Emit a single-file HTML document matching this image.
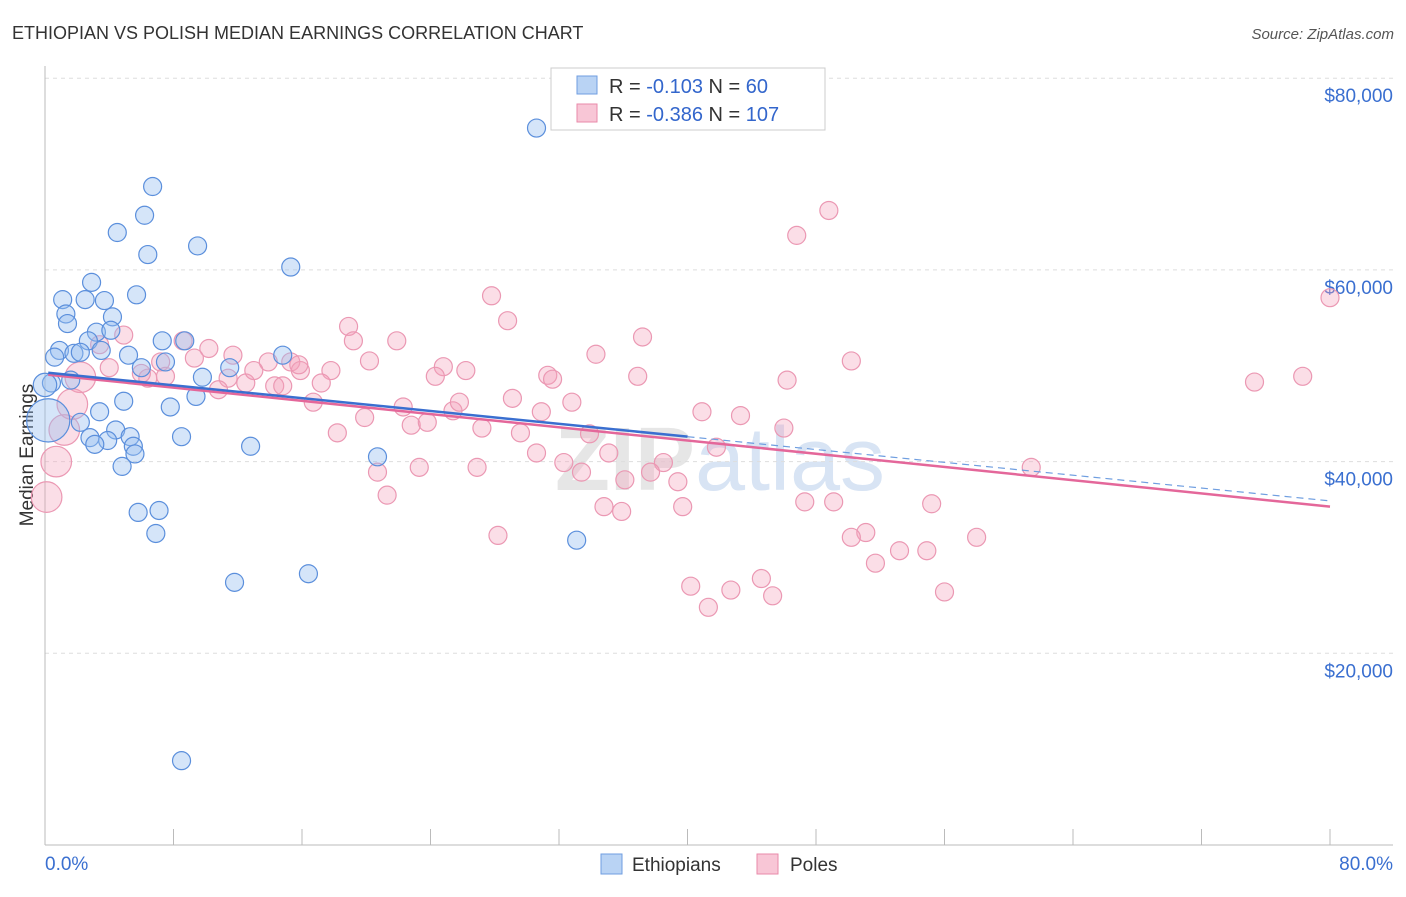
<!DOCTYPE html>
<html><head><meta charset="utf-8"><style>
body{margin:0;background:#fff;font-family:"Liberation Sans",sans-serif}
svg text{font-family:"Liberation Sans",sans-serif}
</style></head><body>
<svg id="c" width="1406" height="892">
<text x="12" y="39" font-size="18" fill="#333">ETHIOPIAN VS POLISH MEDIAN EARNINGS CORRELATION CHART</text>
<text x="1394" y="39" font-size="15" fill="#555" text-anchor="end" font-style="italic">Source: ZipAtlas.com</text>
<text x="33" y="455" font-size="19" fill="#333" text-anchor="middle" transform="rotate(-90 33 455)">Median Earnings</text>
<text x="720" y="490" font-size="90" fill="#e6e6e6" text-anchor="middle" font-weight="bold">ZIP<tspan fill="#d8e4f4" font-weight="normal">atlas</tspan></text>
<g id="grid"></g><g id="pts"></g><g id="trend"></g>
<g>
<rect x="551" y="68" width="274" height="62" fill="#fff" stroke="#ccc"/>
<rect x="577" y="76" width="20" height="18" fill="#b9d3f4" stroke="#6f9ee0"/>
<rect x="577" y="104" width="20" height="18" fill="#f8c6d6" stroke="#e98aa9"/>
<text x="609" y="93" font-size="20" fill="#333">R = <tspan fill="#3366cc">-0.103</tspan>   N = <tspan fill="#3366cc">  60</tspan></text>
<text x="609" y="121" font-size="20" fill="#333">R = <tspan fill="#3366cc">-0.386</tspan>   N = <tspan fill="#3366cc">107</tspan></text>
</g>
<g>
<rect x="601" y="854" width="21" height="20" fill="#b9d3f4" stroke="#6f9ee0"/>
<text x="632" y="871" font-size="19" fill="#333">Ethiopians</text>
<rect x="757" y="854" width="21" height="20" fill="#f8c6d6" stroke="#e98aa9"/>
<text x="790" y="871" font-size="19" fill="#333">Poles</text>
</g>
<text x="45" y="870" font-size="19" fill="#3a6fd0">0.0%</text>
<text x="1393" y="870" font-size="19" fill="#3a6fd0" text-anchor="end">80.0%</text>
</svg>
<script>
const yTicks=[20000,40000,60000,80000];
const yTickLabels=["$20,000","$40,000","$60,000","$80,000"];
const xTicks=[0,8,16,24,32,40,48,56,64,72,80];
const ethX=[30.6,6.7,6.2,4.5,6.4,9.5,15.3,2.9,1.1,2.5,3.7,5.7,1.3,1.4,4.2,3.2,4.1,7.3,8.7,2.7,0.9,1.8,0.6,3.5,2.2,5.2,7.5,6.0,14.8,11.5,9.8,9.4,0.4,1.6,4.9,7.8,3.4,2.2,4.4,2.8,5.3,3.9,3.1,8.5,12.8,5.5,5.6,4.8,20.7,5.8,7.1,6.9,11.8,16.4,33.1,8.5,0.2,0.0];
const ethY=[74.8,68.7,65.7,63.9,61.6,62.5,60.3,58.7,56.9,56.9,56.8,57.4,55.4,54.4,55.1,53.5,53.7,52.6,52.6,52.6,51.6,51.3,50.9,51.6,51.4,51.1,50.4,49.8,51.1,49.8,48.8,46.8,48.2,48.5,46.3,45.7,45.2,44.1,43.3,42.5,42.6,42.2,41.8,42.6,41.6,41.6,40.8,39.5,40.5,34.7,34.9,32.5,27.4,28.3,31.8,8.8,44.3,48.0];
const ethW=[1,1,1,1,1,1,1,1,1,1,1,1,1,1,1,1,1,1,1,1,1,1,1,1,1,1,1,1,1,1,1,1,1,1,1,1,1,1,1,1,1,1,1,1,1,1,1,1,1,1,1,1,1,1,1,1,2.4,1.3];
const polX=[48.8,46.8,80.0,27.8,28.8,18.9,19.2,37.2,21.9,34.3,50.2,20.2,78.3,75.3,4.9,3.4,8.6,10.2,11.7,9.3,13.9,15.3,7.2,4.0,6.4,7.5,6.0,11.4,12.5,14.3,14.8,15.9,17.8,17.2,15.8,13.0,24.8,26.2,24.3,31.3,31.6,36.9,46.2,10.8,16.7,22.3,25.4,25.8,29.1,30.9,32.8,40.9,43.3,19.9,22.8,23.8,27.2,29.6,33.9,18.2,35.1,30.6,32.3,38.5,41.8,46.0,20.7,23.3,26.9,33.4,36.1,37.7,39.4,61.4,21.3,28.2,34.8,35.9,39.7,47.3,49.1,55.2,51.1,50.2,53.2,54.9,58.0,51.7,56.0,40.2,41.3,42.7,44.6,45.3,2.2,1.7,1.2,0.7,0.1];
const polY=[66.2,63.6,57.1,57.3,54.7,54.1,52.6,53.0,52.6,51.2,50.5,50.5,48.9,48.3,53.2,52.2,52.6,51.8,51.1,50.8,50.4,50.4,50.4,49.8,48.7,48.9,49.2,48.7,48.2,47.9,47.9,49.5,49.5,48.2,50.1,49.5,49.9,49.5,48.9,49.0,48.6,48.9,48.5,47.5,46.2,45.7,45.3,46.2,46.6,45.2,46.2,45.2,44.8,44.6,43.8,44.1,43.5,43.0,42.9,43.0,40.9,40.9,39.9,39.9,41.5,43.5,38.9,39.4,39.4,38.9,38.1,38.9,37.9,39.4,36.5,32.3,35.3,34.8,35.3,35.8,35.8,35.6,32.6,32.1,30.7,30.7,32.1,29.4,26.4,27.0,24.8,26.6,27.8,26.0,48.8,46.0,43.3,40.0,36.3];
const polW=polX.map((v,i)=>i>=94?1.7:1);
const ethTrend=[49.3,-0.1675]; // intercept (k$), slope per %
const polTrend=[49.1,-0.1725];
const X=p=>45+p/80*1285, Y=v=>845-v/20000*191.7, Yk=k=>Y(k*1000);
const NS="http://www.w3.org/2000/svg";
function mk(t,a,parent){const e=document.createElementNS(NS,t);for(const k in a)e.setAttribute(k,a[k]);parent.appendChild(e);return e;}
const grid=document.getElementById('grid');
yTicks.forEach((v,i)=>{
 const l=mk('line',{x1:45,x2:1393,y1:Y(v),y2:Y(v),stroke:'#ddd','stroke-dasharray':'4 4'},grid);
 
 
 const t=mk('text',{x:1393,y:Y(v)+24,'font-size':19,fill:'#3a6fd0','text-anchor':'end'},grid);
 t.textContent=yTickLabels[i];
 
 
});
const ax=mk('line',{x1:45,x2:45,y1:66,y2:845,stroke:'#bbb'},grid);


const bx=mk('line',{x1:45,x2:1393,y1:845,y2:845,stroke:'#bbb'},grid);


xTicks.forEach(p=>{
 const t=mk('line',{x1:X(p),x2:X(p),y1:829,y2:845,stroke:'#bbb'},grid);
 
 
});
const pts=document.getElementById('pts');
polX.forEach((p,i)=>{
 const c=mk('circle',{cx:X(p),cy:Yk(polY[i]),r:9*polW[i],fill:'rgba(244,160,186,0.35)',stroke:'#eb98b3','stroke-width':1.2},pts);
 
 
});
ethX.forEach((p,i)=>{
 const c=mk('circle',{cx:X(p),cy:Yk(ethY[i]),r:9*ethW[i],fill:'rgba(150,190,240,0.4)',stroke:'#5b8fdc','stroke-width':1.2},pts);
 
 
});
const tr=document.getElementById('trend');
const f=(t,p)=>Yk(t[0]+t[1]*p);
const l1=mk('line',{x1:X(0.2),y1:f(polTrend,0.2),x2:X(80),y2:f(polTrend,80),stroke:'#e4679a','stroke-width':2.5},tr);


const l2=mk('line',{x1:X(0.2),y1:f(ethTrend,0.2),x2:X(40),y2:f(ethTrend,40),stroke:'#3a6fd0','stroke-width':2.5},tr);


const l3=mk('line',{x1:X(40),y1:f(ethTrend,40),x2:X(80),y2:f(ethTrend,80),stroke:'#6f9ee0','stroke-width':1.2,'stroke-dasharray':'7 5'},tr);


</script>
</body></html>
